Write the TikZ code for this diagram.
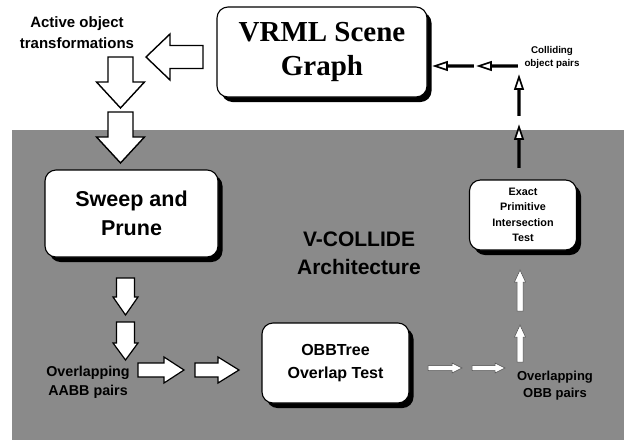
\documentclass[tikz,border=0pt]{standalone}
\usepackage{fontspec}
\setmainfont{Liberation Sans}
\newfontfamily\timesfont{Liberation Serif}
\usetikzlibrary{calc,shadows}

% block arrow from coordinate #2 to coordinate #3:
% #4 half shaft width, #5 half head width, #6 head length
\newcommand\blockarrow[6]{%
  \draw[#1] let \p1=(#2), \p2=(#3),
    \n1={atan2(\y2-\y1,\x2-\x1)}, \n2={veclen(\x2-\x1,\y2-\y1)} in
    [shift={(\p1)}, rotate=\n1]
    (0,-#4) -- ({\n2-#6},-#4) -- ({\n2-#6},-#5) -- (\n2,0)
    -- ({\n2-#6},#5) -- ({\n2-#6},#4) -- (0,#4) -- cycle;}

\tikzset{
  box/.style={draw=black, line width=1.1pt, fill=white, rounded corners=11pt,
    align=center, inner sep=0pt,
    drop shadow={shadow xshift=4.5pt, shadow yshift=-5pt, fill=black, opacity=1}},
  lbl/.style={align=center, inner sep=0pt, text=black},
  bigarrow/.style={fill=white, draw=black, line width=1.4pt, line join=miter},
  midarrow/.style={fill=white, draw=black, line width=1.2pt},
  tinywhite/.style={fill=white, draw=black!70, line width=0.5pt},
  tinyhollow/.style={fill=white, draw=black, line width=1.6pt},
}

\begin{document}
\begin{tikzpicture}[x=1pt, y=-1pt]
\useasboundingbox (0,0) rectangle (624,440);
\fill[white] (0,0) rectangle (624,440);
% shaded panel holding the collision pipeline
\fill[black!46] (12,130) rectangle (624,440);

% boxes
\node[box, minimum width=210pt, minimum height=90pt,
      font=\timesfont\bfseries\fontsize{29}{34}\selectfont] (vrml) at (322,52)
      {VRML Scene\\Graph};
\node[box, minimum width=173pt, minimum height=87pt,
      font=\bfseries\fontsize{21.5}{29}\selectfont] (sap) at (131.5,213.5)
      {Sweep and\\Prune};
\node[box, minimum width=147pt, minimum height=80pt,
      font=\bfseries\fontsize{16}{23}\selectfont] (obb) at (335.5,363)
      {OBBTree\\Overlap Test};
\node[box, minimum width=107pt, minimum height=70pt,
      font=\bfseries\fontsize{10.8}{15.5}\selectfont] (exact) at (523,215)
      {Exact\\Primitive\\Intersection\\Test};

% labels
\node[lbl, font=\bfseries\fontsize{15}{21}\selectfont] (active) at (77,33)
      {Active object\\transformations};
\node[lbl, font=\bfseries\fontsize{9.8}{13}\selectfont] (colliding) at (552,57)
      {Colliding\\object pairs};
\node[lbl, font=\bfseries\fontsize{14.3}{19}\selectfont] (aabb) at (88,382)
      {Overlapping\\AABB pairs};
\node[lbl, font=\bfseries\fontsize{13}{17}\selectfont] (obbpairs) at (555,386)
      {Overlapping\\OBB pairs};
\node[lbl, font=\bfseries\fontsize{21}{28}\selectfont] (arch) at (359,253)
      {V-COLLIDE\\Architecture};

% arrow end points
\coordinate (a1t) at (203,57);    \coordinate (a1h) at (146,57);
\coordinate (d1t) at (120.5,57);  \coordinate (d1h) at (120.5,108);
\coordinate (d2t) at (120.5,112); \coordinate (d2h) at (120.5,163);
\coordinate (s1t) at (125.5,278); \coordinate (s1h) at (125.5,315);
\coordinate (s2t) at (125.5,322); \coordinate (s2h) at (125.5,360);
\coordinate (r1t) at (138,370);   \coordinate (r1h) at (184,370);
\coordinate (r2t) at (195,370);   \coordinate (r2h) at (239,370);
\coordinate (o1t) at (428,368);   \coordinate (o1h) at (462,368);
\coordinate (o2t) at (472,368);   \coordinate (o2h) at (505,368);
\coordinate (u1t) at (520,362);   \coordinate (u1h) at (520,325);
\coordinate (u2t) at (520,311);   \coordinate (u2h) at (520,270);
\coordinate (v1t) at (519,167);   \coordinate (v1h) at (519,127);
\coordinate (v2t) at (519,115);   \coordinate (v2h) at (519,77);
\coordinate (h1t) at (517,66);    \coordinate (h1h) at (479,66);
\coordinate (h2t) at (473,66);    \coordinate (h2h) at (435,66);

% transformations flow
\blockarrow{bigarrow}{a1t}{a1h}{11.5}{23}{24}
\blockarrow{bigarrow}{d1t}{d1h}{12.5}{24}{26}
\blockarrow{bigarrow}{d2t}{d2h}{12.5}{24}{26}
% sweep and prune to overlapping AABB pairs
\blockarrow{midarrow}{s1t}{s1h}{9}{12.5}{18}
\blockarrow{midarrow}{s2t}{s2h}{9}{12.5}{17}
\blockarrow{midarrow}{r1t}{r1h}{7}{13}{20}
\blockarrow{midarrow}{r2t}{r2h}{7}{13}{21}
% OBB tree to overlapping OBB pairs
\blockarrow{tinywhite}{o1t}{o1h}{2.5}{5}{10}
\blockarrow{tinywhite}{o2t}{o2h}{2.5}{5}{10}
\blockarrow{tinywhite}{u1t}{u1h}{3}{5.5}{12}
\blockarrow{tinywhite}{u2t}{u2h}{3}{5.5}{12}
% colliding pairs back to the scene graph
\blockarrow{tinyhollow}{v1t}{v1h}{0.8}{4}{12}
\blockarrow{tinyhollow}{v2t}{v2h}{0.8}{4}{12}
\blockarrow{tinyhollow}{h1t}{h1h}{0.8}{4}{12}
\blockarrow{tinyhollow}{h2t}{h2h}{0.8}{4}{12}
\end{tikzpicture}
\end{document}
